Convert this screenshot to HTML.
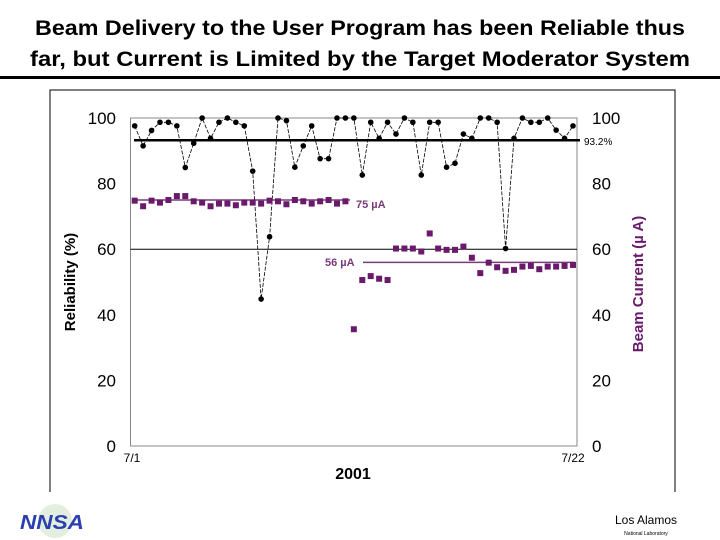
<!DOCTYPE html>
<html><head><meta charset="utf-8"><style>
html,body{margin:0;padding:0;background:#fff;}
svg{display:block;font-family:"Liberation Sans",Arial,sans-serif;}
</style></head><body>
<svg id="chart" width="720" height="540" viewBox="0 0 720 540">
<text x="360" y="35" text-anchor="middle" font-size="21" font-weight="bold" textLength="650" lengthAdjust="spacingAndGlyphs">Beam Delivery to the User Program has been Reliable thus</text>
<text x="360" y="66" text-anchor="middle" font-size="21" font-weight="bold" textLength="660" lengthAdjust="spacingAndGlyphs">far, but Current is Limited by the Target Moderator System</text>
<rect x="0" y="76" width="720" height="3" fill="#000"/>
<path d="M50,492 V90 H675 V492" fill="none" stroke="#000" stroke-width="1"/>
<rect x="130.5" y="118" width="446.5" height="328" fill="none" stroke="#888" stroke-width="1"/>
<g id="ticks"></g>
<g id="refs"></g>
<g id="series"></g>
<text x="75" y="282" transform="rotate(-90 75 282)" text-anchor="middle" font-size="15" font-weight="bold">Reliability (%)</text>
<text x="643" y="284" transform="rotate(-90 643 284)" text-anchor="middle" font-size="15" font-weight="bold" fill="#6b1a6b">Beam Current (µ A)</text>
<text x="132" y="462" text-anchor="middle" font-size="12">7/1</text>
<text x="573" y="462" text-anchor="middle" font-size="12">7/22</text>
<text x="353" y="479" text-anchor="middle" font-size="16" font-weight="bold">2001</text>
<text x="584" y="145" font-size="10">93.2%</text>
<text x="356" y="208" font-size="11" font-weight="bold" fill="#7a3a7a">75 µA</text>
<text x="325" y="266" font-size="11" font-weight="bold" fill="#7a3a7a">56 µA</text>
<g>
<circle cx="55" cy="521" r="17" fill="#e4eede"/>
<text x="52" y="529" text-anchor="middle" font-size="20" font-weight="bold" font-style="italic" fill="#2a3fb0" textLength="64" lengthAdjust="spacingAndGlyphs">NNSA</text>
</g>
<text x="646" y="524" text-anchor="middle" font-size="12">Los Alamos</text>
<text x="646" y="535" text-anchor="middle" font-size="5">National Laboratory</text>
</svg>
<script>
const reliability = [97.6,91.5,96.2,98.7,98.7,97.6,84.9,92.3,100,93.8,98.7,100,98.7,97.6,83.8,44.8,63.8,100,99.2,85,91.5,97.6,87.6,87.6,100,100,100,82.6,98.7,93.8,98.7,95.1,100,98.7,82.6,98.7,98.7,85,86.2,95.1,93.8,100,100,98.7,60.2,93.8,100,98.7,98.7,100,96.3,93.8,97.6];
const current = [74.8,73.1,74.8,74.2,75,76.2,76.2,74.6,74.2,73.1,73.9,73.9,73.4,74.2,74.2,73.9,74.8,74.6,73.7,75,74.6,73.9,74.6,75,73.9,74.6,35.6,50.6,51.8,51,50.6,60.2,60.2,60.2,59.3,64.8,60.2,59.8,59.8,60.8,57.4,52.7,55.9,54.5,53.4,53.7,54.7,54.9,53.9,54.7,54.7,54.9,55.2];
const yTicks = [0,20,40,60,80,100];
const refReliability = 93.2;
const refCurrentHigh = 75;
const refCurrentLow = 56;
const gridLine = 60;

const NS = "http://www.w3.org/2000/svg";
const N = reliability.length;
function xs(i){ return 134.7 + i*(573-134.7)/(N-1); }
function ys(v){ return 446 - v*3.28; }
function mk(tag, attrs, parent){
  const e = document.createElementNS(NS, tag);
  for (const k in attrs) e.setAttribute(k, attrs[k]);
  parent.appendChild(e); return e;
}
const ticks = document.getElementById('ticks');
yTicks.forEach(t => {
  const a = mk('text', {x:116, y:ys(t)+6, 'text-anchor':'end', 'font-size':17}, ticks);
  a.textContent = t;
  
  
  const b = mk('text', {x:592, y:ys(t)+6, 'font-size':17}, ticks);
  b.textContent = t;
  
  
});
const refs = document.getElementById('refs');
let l = mk('line', {x1:130.5, x2:577, y1:ys(gridLine), y2:ys(gridLine), stroke:'#000', 'stroke-width':1}, refs);


l = mk('line', {x1:134, x2:580, y1:ys(refReliability), y2:ys(refReliability), stroke:'#000', 'stroke-width':2.5}, refs);


l = mk('line', {x1:134, x2:350, y1:ys(refCurrentHigh), y2:ys(refCurrentHigh), stroke:'#7a3a7a', 'stroke-width':1.5}, refs);


l = mk('line', {x1:363, x2:575, y1:ys(refCurrentLow), y2:ys(refCurrentLow), stroke:'#7a3a7a', 'stroke-width':1.5}, refs);



const series = document.getElementById('series');
const pts = reliability.map((v,i)=>xs(i).toFixed(1)+','+ys(v).toFixed(1)).join(' ');
const pl = mk('polyline', {points:pts, fill:'none', stroke:'#000', 'stroke-width':0.8, 'stroke-dasharray':'4,1.5'}, series);


reliability.forEach((v,i)=>{
  const c = mk('circle', {cx:xs(i), cy:ys(v), r:2.8, fill:'#000'}, series);
  
  
});
current.forEach((v,i)=>{
  const r = mk('rect', {x:xs(i)-3, y:ys(v)-3, width:6, height:6, fill:'#6b1a6b'}, series);
  
  
});
</script>
</body></html>
